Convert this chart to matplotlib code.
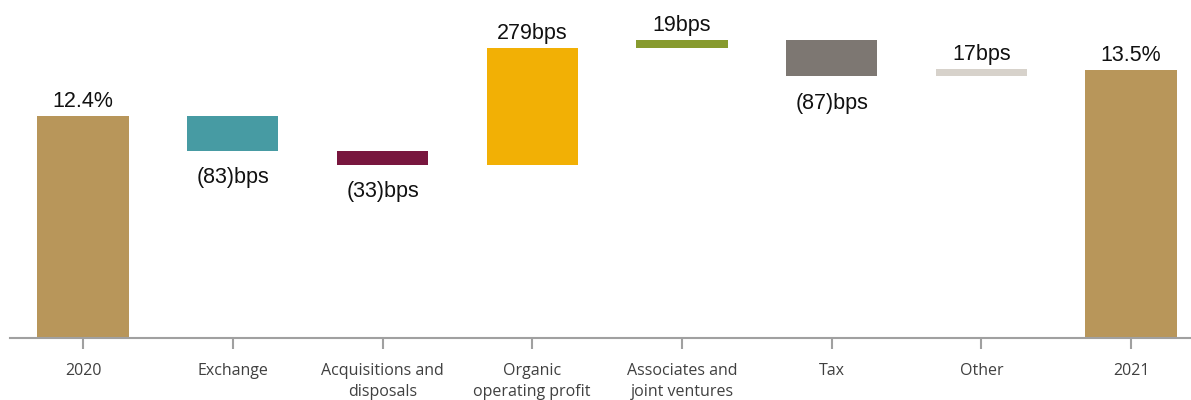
import matplotlib
matplotlib.use("Agg")
import matplotlib.pyplot as plt
import numpy as np

categories = ["2020", "Exchange", "Acquisitions and\ndisposals", "Organic\noperating profit",
              "Associates and\njoint ventures", "Tax", "Other", "2021"]
start_value = 12.4          # %
changes_bps = [-83, -33, 279, 19, -87, 17]
end_value = 13.5            # %
labels = ["12.4%", "(83)bps", "(33)bps", "279bps", "19bps", "(87)bps", "17bps", "13.5%"]
colors = ["#B8965A", "#479BA3", "#78163E", "#F2B005", "#879A2E", "#7D7772", "#D7D2CB", "#B8965A"]

ymin, ymax = 7.09, 15.18

fig = plt.figure(figsize=(11.91, 4.0), dpi=100)
ax = fig.add_axes([0.0084, 0.155, 0.9916, 0.845])

x = np.arange(len(categories))
width = 0.61

bottoms, heights = [], []
bottoms.append(ymin); heights.append(start_value - ymin)
run = start_value
for c in changes_bps:
    d = c / 100.0
    if d >= 0:
        bottoms.append(run); heights.append(d)
    else:
        bottoms.append(run + d); heights.append(-d)
    run += d
bottoms.append(ymin); heights.append(end_value - ymin)

ax.bar(x, heights, bottom=bottoms, width=width, color=colors, linewidth=0)

vals = [None] + changes_bps + [None]
for i, (b, h, lab) in enumerate(zip(bottoms, heights, labels)):
    v = vals[i]
    if v is not None and v < 0:
        ax.annotate(lab, (x[i], b), xytext=(0, -12), textcoords="offset points",
                    ha="center", va="top", fontsize=15.5, family="Liberation Sans", color="#111111")
    else:
        ax.annotate(lab, (x[i], b + h), xytext=(0, 3), textcoords="offset points",
                    ha="center", va="bottom", fontsize=15.5, family="Liberation Sans", color="#111111")

ax.set_xlim(-0.488, 7.4)
ax.set_ylim(ymin, ymax)
for s in ["top", "right", "left"]:
    ax.spines[s].set_visible(False)
ax.spines["bottom"].set_color("#A0A0A0")
ax.spines["bottom"].set_linewidth(1.5)
ax.set_yticks([])
ax.set_xticks(x)
ax.set_xticklabels(categories, fontsize=11.5, family="Open Sans", color="#404040", linespacing=1.4)
ax.tick_params(axis="x", length=8, width=1.5, color="#A0A0A0", pad=10)

fig.savefig("out.png", dpi=100)
